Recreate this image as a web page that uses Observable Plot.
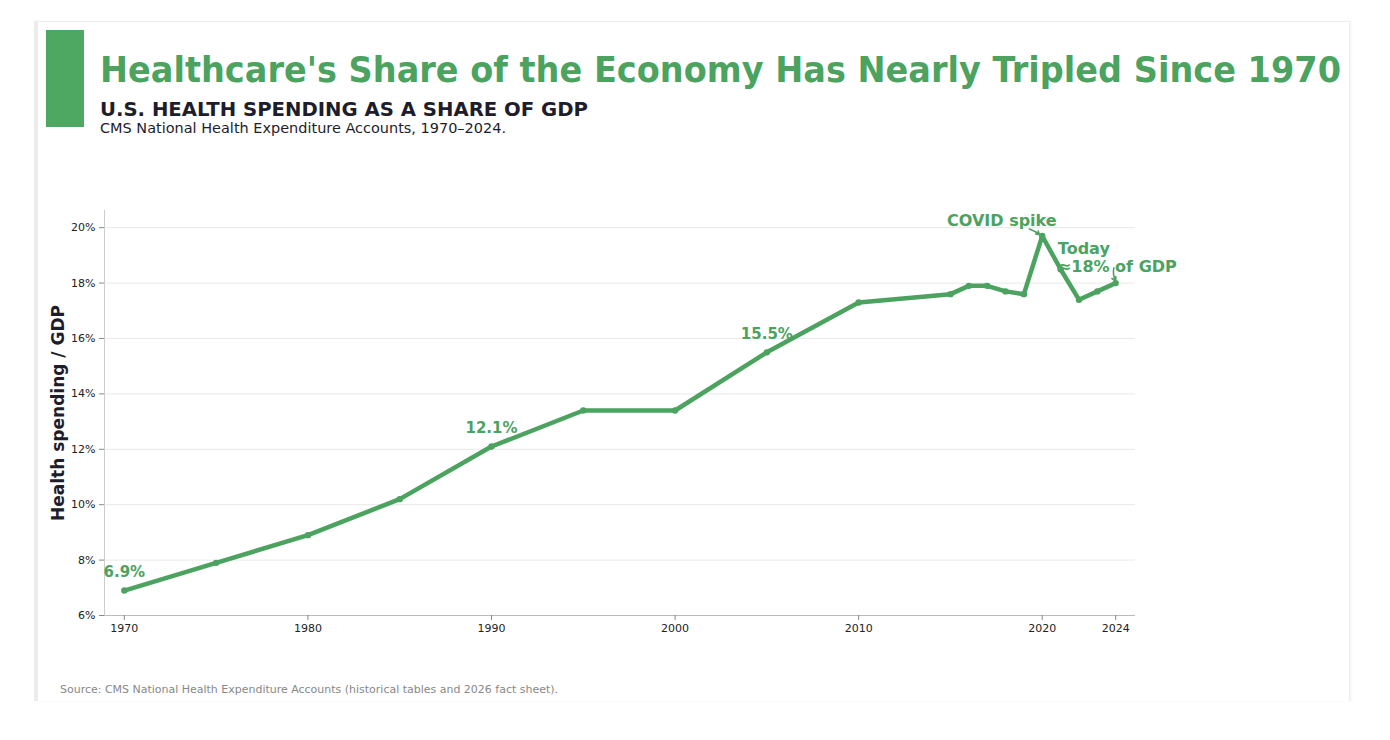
<!DOCTYPE html>
<html>
<head>
<meta charset="utf-8">
<script src="https://cdn.jsdelivr.net/npm/d3@7"></script>
<script src="https://cdn.jsdelivr.net/npm/@observablehq/plot@0.6"></script>
<style>
  html, body { margin: 0; padding: 0; background: #fff; }
  body { width: 1390px; height: 740px; position: relative; overflow: hidden; font-family: "DejaVu Sans", sans-serif; }
  .card { position: absolute; left: 34px; top: 21px; width: 1311px; height: 679px; background: #fff;
          border: 1px solid #eeeeee; border-left: 4px solid #ececec; border-bottom: none; box-shadow: 2px 0 3px rgba(0,0,0,0.04); }
  .bar { position: absolute; left: 46px; top: 30px; width: 38px; height: 97px; background: #4ea862; }
  .title { position: absolute; left: 100px; top: 50px; font-size: 35px; font-weight: bold; color: #4ba35f; white-space: nowrap; transform-origin: left top; }
  .subtitle { position: absolute; left: 100px; top: 97px; font-size: 20px; font-weight: bold; color: #1e1d2c; white-space: nowrap; transform-origin: left top; }
  .desc { position: absolute; left: 100px; top: 120px; font-size: 14px; color: #1e1d2c; white-space: nowrap; transform-origin: left top; }
  .source { position: absolute; left: 60px; top: 683px; font-size: 11px; color: #888; white-space: nowrap; transform-origin: left top; }
  #chart { position: absolute; left: 0; top: 190px; }
  #chart svg { overflow: visible; }
</style>
</head>
<body>
<div class="card"></div>
<div class="bar"></div>
<div class="title" id="title">Healthcare's Share of the Economy Has Nearly Tripled Since 1970</div>
<div class="subtitle" id="subtitle">U.S. HEALTH SPENDING AS A SHARE OF GDP</div>
<div class="desc" id="desc">CMS National Health Expenditure Accounts, 1970–2024.</div>
<div id="chart"></div>
<div class="source" id="source">Source: CMS National Health Expenditure Accounts (historical tables and 2026 fact sheet).</div>
<script>
// National health expenditure as a percent of GDP
const years = [1970, 1975, 1980, 1985, 1990, 1995, 2000, 2005, 2010, 2015, 2016, 2017, 2018, 2019, 2020, 2021, 2022, 2023, 2024];
const shares = [6.9, 7.9, 8.9, 10.2, 12.1, 13.4, 13.4, 15.5, 17.3, 17.6, 17.9, 17.9, 17.7, 17.6, 19.7, 18.5, 17.4, 17.7, 18.0];

// Milestone years labelled with their value
const labelYears = [1970, 1990, 2005];

// Axis ticks
const xTicks = [1970, 1980, 1990, 2000, 2010, 2020, 2024];
const yTicks = [6, 8, 10, 12, 14, 16, 18, 20];

// Callouts: text anchor and arrow
const covidNote = { text: "COVID spike", x: 2017.8, y: 20.25, ax1: 2019.3, ay1: 19.95, ax2: 2019.85, ay2: 19.75 };
const todayNote = { text: "Today\n≈18% of GDP", x: 2020.85, y: 18.94, ax1: 2023.9, ay1: 18.55, ax2: 2024, ay2: 18.08 };

const green = "#4ba35f";
const data = years.map((year, i) => ({ year, share: shares[i] }));
const labelled = data.filter(d => labelYears.includes(d.year));

const xDomain = [1968.92, 2025.08];
const yDomain = [6, 20.62];

const chart = Plot.plot({
  width: 1390,
  height: 470,
  marginLeft: 104,
  marginRight: 255,
  marginTop: 20,
  marginBottom: 45,
  style: { fontFamily: "DejaVu Sans, sans-serif", fontSize: "11px", color: "#222", background: "transparent" },
  x: { domain: xDomain, ticks: xTicks, tickFormat: d => String(d), tickSize: 5, label: null, tickPadding: 6 },
  y: { domain: yDomain, ticks: yTicks, tickFormat: d => d + "%", tickSize: 5, label: null, tickPadding: 4 },
  marks: [
    Plot.gridY(yTicks, { stroke: "#e9e9e9", strokeOpacity: 1, strokeWidth: 1 }),
    Plot.ruleX([xDomain[0]], { stroke: "#cccccc" }),
    Plot.ruleY([yDomain[0]], { stroke: "#bbbbbb" }),
    Plot.axisX({ ticks: xTicks, tickFormat: d => String(d), tickSize: 5, stroke: "#888", fill: "#222", fontSize: 11 }),
    Plot.axisY({ ticks: yTicks, tickFormat: d => d + "%", tickSize: 5, stroke: "#888", fill: "#222", fontSize: 11 }),
    Plot.text(["Health spending / GDP"], { frameAnchor: "left", textAnchor: "middle", rotate: -90, dx: -46, fontSize: 17, fontWeight: "bold", fill: "#1e1d2c" }),
    Plot.line(data, { x: "year", y: "share", stroke: green, strokeWidth: 4.5, strokeLinejoin: "round", strokeLinecap: "round" }),
    Plot.dot(data, { x: "year", y: "share", r: 3.2, fill: green, stroke: null }),
    Plot.text(labelled, { x: "year", y: "share", text: d => d.share.toFixed(1) + "%", dy: -18, fill: green, fontSize: 15, fontWeight: "bold" }),
    Plot.text([covidNote], { x: "x", y: "y", text: "text", fill: green, fontSize: 16, fontWeight: "bold" }),
    Plot.arrow([covidNote], { x1: "ax1", y1: "ay1", x2: "ax2", y2: "ay2", stroke: green, strokeWidth: 1.6, headLength: 7, bend: 10 }),
    Plot.text([todayNote], { x: "x", y: "y", text: "text", textAnchor: "start", lineHeight: 1.15, fill: green, fontSize: 16, fontWeight: "bold" }),
    Plot.arrow([todayNote], { x1: "ax1", y1: "ay1", x2: "ax2", y2: "ay2", stroke: green, strokeWidth: 1.6, headLength: 7, bend: -20 })
  ]
});
document.getElementById("chart").appendChild(chart);

// Fit header/footer text to their intended widths
function fitWidth(id, target) {
  const el = document.getElementById(id);
  const w = el.getBoundingClientRect().width;
  if (w > 0) el.style.transform = `scaleX(${target / w})`;
}
fitWidth("title", 1241);
fitWidth("subtitle", 488);
fitWidth("desc", 406);
fitWidth("source", 498);
</script>
</body>
</html>
